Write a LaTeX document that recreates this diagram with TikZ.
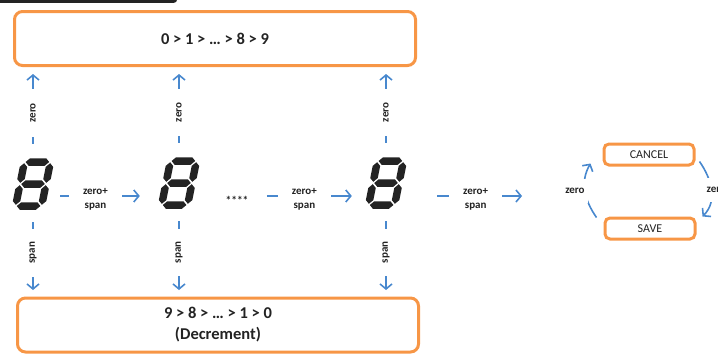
\documentclass[tikz,border=0pt]{standalone}
\usepackage{fontspec}
\setmainfont{Carlito}
\usetikzlibrary{arrows.meta,positioning}
\definecolor{boxorange}{RGB}{247,150,70}
\definecolor{flowblue}{RGB}{72,136,206}
\definecolor{textgray}{RGB}{35,35,35}

\tikzset{
  rangebox/.style={draw=boxorange, line width=3pt, rounded corners=8pt, minimum width=401pt, minimum height=54pt, font=\fontsize{16.5}{21}\selectfont\bfseries, text=textgray, align=center},
  keybox/.style={draw=boxorange, line width=3pt, rounded corners=5pt, minimum width=90pt, minimum height=21pt, font=\fontsize{12}{14}\selectfont, text=textgray},
  digit/.style={minimum width=40pt, minimum height=50pt, inner sep=0pt},
  flow/.style={draw=flowblue, line width=1.6pt, -{Straight Barb[length=5pt,width=12pt]}},
  lbl/.style={fill=white, text=textgray, font=\fontsize{11}{14}\selectfont\bfseries, align=center, inner xsep=14pt, inner ysep=2pt},
  pics/segdigit/.style={code={
    \begin{scope}[xslant=.2]
      % horizontal segments
      \foreach \yy in {-22,0,22}
        \fill[textgray] (-11.8,\yy) -- (-8.05,\yy+3.75) -- (8.05,\yy+3.75) -- (11.8,\yy) -- (8.05,\yy-3.75) -- (-8.05,\yy-3.75) -- cycle;
      % vertical segments
      \foreach \xx in {-13,13}
        \foreach \bb in {-22,0}
          \fill[textgray] (\xx,\bb+1.2) -- (\xx+3.75,\bb+4.95) -- (\xx+3.75,\bb+17.05) -- (\xx,\bb+20.8) -- (\xx-3.75,\bb+17.05) -- (\xx-3.75,\bb+4.95) -- cycle;
    \end{scope}
  }}
}

\begin{document}
\begin{tikzpicture}[x=1pt, y=1pt]
\useasboundingbox (0,0) rectangle (718,-356);
\fill[textgray, rounded corners=3pt] (-6,6) rectangle (177,-2.8);

% Count ranges
\node[rangebox] (up) at (215,-38.5) {0 > 1 > … > 8 > 9};
\node[rangebox] (down) at (218,-325) {9 > 8 > … > 1 > 0\\(Decrement)};

% Digits
\node[digit] (d1) at (33,-184) {};
\node[digit] (d2) at (179,-183) {};
\node[digit] (d3) at (386,-183) {};
\foreach \d in {d1,d2,d3}
  \pic at (\d) {segdigit};
\node[font=\fontsize{11.5}{13}\selectfont\bfseries, text=textgray] (dots) at (237,-200) {****};
\coordinate (out) at (522,-196);

% Save / cancel
\node[keybox] (cancel) at (649,-154.5) {CANCEL};
\node[keybox] (save) at (650,-228.5) {SAVE};

% Up and down
\foreach \d in {d1,d2,d3} {
  \draw[flow, shorten <=15pt, shorten >=7pt] (\d.north) -- node[lbl, rotate=90]{zero} (up.south -| \d.north);
  \draw[flow, shorten <=13pt, shorten >=6.5pt] (\d.south) -- node[lbl, rotate=90, inner xsep=13pt]{span} (down.north -| \d.south);
}

% Next digit
\draw[flow, shorten <=7pt, shorten >=19pt] ([yshift=-12pt]d1.east) -- node[lbl, pos=.4, yshift=-3pt]{zero+\\span} ([yshift=-13pt]d2.west);
\draw[flow, shorten <=15pt, shorten >=14pt] ([yshift=4pt]dots.east) -- node[lbl, pos=.46, yshift=-3pt]{zero+\\span} ([yshift=-13pt]d3.west);
\draw[flow, shorten <=31pt] ([yshift=-13pt]d3.east) -- node[lbl, pos=.6, yshift=-3pt]{zero+\\span} (out);

% Cycle
\draw[flow] ([shift={(-7pt,-1pt)}]save.north west) to[out=125, in=-120] node[lbl, inner xsep=3pt, inner ysep=9pt, xshift=-10pt]{zero} ([shift={(-12pt,3pt)}]cancel.south west);
\draw[flow] ([shift={(4pt,5pt)}]cancel.south east) to[out=-55, in=45] node[lbl, inner xsep=3pt, inner ysep=9pt, xshift=5pt]{zero} ([shift={(6pt,0pt)}]save.north east);
\end{tikzpicture}
\end{document}
